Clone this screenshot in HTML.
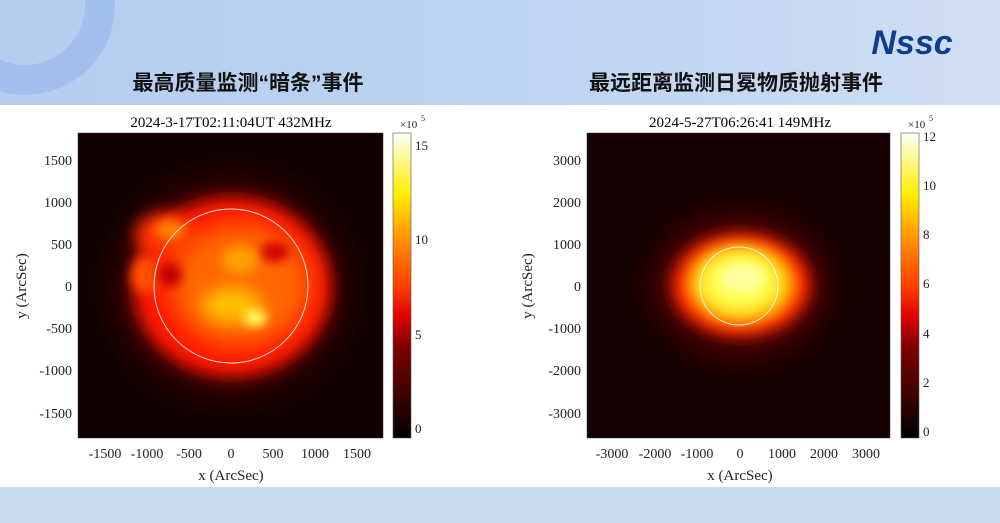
<!DOCTYPE html>
<html><head><meta charset="utf-8"><style>
html,body{margin:0;padding:0;width:1000px;height:523px;overflow:hidden;background:#fff}
</style></head><body>
<svg width="1000" height="523" viewBox="0 0 1000 523" xmlns="http://www.w3.org/2000/svg" font-family="Liberation Serif, serif">
<defs>
<linearGradient id="sky" x1="0" y1="0" x2="1" y2="0">
<stop offset="0" stop-color="#b4cdf0"/><stop offset="0.5" stop-color="#bcd3f2"/><stop offset="1" stop-color="#d0def2"/></linearGradient>
<linearGradient id="cb" x1="0" y1="1" x2="0" y2="0">
<stop offset="0" stop-color="#000"/><stop offset="0.3" stop-color="#800000"/><stop offset="0.4" stop-color="#e00000"/><stop offset="0.5" stop-color="#ff4000"/><stop offset="0.65" stop-color="#ff9000"/><stop offset="0.8" stop-color="#ffee00"/><stop offset="1" stop-color="#fffff8"/></linearGradient>
<filter id="b8" x="-50%" y="-50%" width="200%" height="200%"><feGaussianBlur stdDeviation="8"/></filter>
<filter id="b12" x="-50%" y="-50%" width="200%" height="200%"><feGaussianBlur stdDeviation="12"/></filter>
<filter id="b5" x="-50%" y="-50%" width="200%" height="200%"><feGaussianBlur stdDeviation="5"/></filter>
<clipPath id="c1"><rect x="78" y="133" width="305" height="305"/></clipPath>
<clipPath id="c2"><rect x="587" y="133" width="303" height="305"/></clipPath>
</defs>
<rect width="1000" height="105" fill="url(#sky)"/>
<circle cx="25" cy="5" r="75" fill="none" stroke="#9ab9ec" stroke-width="30" opacity="0.7"/>
<rect y="487" width="1000" height="36" fill="#c9d9ee"/>
<text x="912" y="54" font-family="Liberation Sans, sans-serif" font-style="italic" font-weight="bold" font-size="34" fill="#0d3d91" text-anchor="middle">Nssc</text>
<text x="248" y="90" font-family="Liberation Sans, 'Noto Sans CJK SC', sans-serif" font-weight="bold" font-size="21" fill="#111" text-anchor="middle">最高质量监测“暗条”事件</text>
<text x="736" y="90" font-family="Liberation Sans, 'Noto Sans CJK SC', sans-serif" font-weight="bold" font-size="21" fill="#111" text-anchor="middle">最远距离监测日冕物质抛射事件</text>

<!-- left plot -->
<text x="231" y="127" font-size="15" text-anchor="middle">2024-3-17T02:11:04UT 432MHz</text>
<g clip-path="url(#c1)">
<rect x="78" y="133" width="305" height="305" fill="#120000"/>
<ellipse cx="230" cy="287" rx="118" ry="112" fill="#300000" filter="url(#b12)"/>
<ellipse cx="232" cy="287" rx="99" ry="90" fill="#ff1800" filter="url(#b8)"/>
<ellipse cx="165" cy="235" rx="30" ry="22" fill="#ff3000" filter="url(#b8)"/>
<ellipse cx="145" cy="275" rx="14" ry="18" fill="#ff5000" filter="url(#b5)"/>
<ellipse cx="240" cy="285" rx="70" ry="62" fill="#ff6800" filter="url(#b12)"/>
<ellipse cx="170" cy="230" rx="15" ry="10" fill="#ff8000" filter="url(#b5)"/>
<ellipse cx="240" cy="260" rx="18" ry="14" fill="#ffa000" filter="url(#b5)"/>
<ellipse cx="232" cy="305" rx="30" ry="18" fill="#ffc000" filter="url(#b8)"/>
<ellipse cx="255" cy="318" rx="12" ry="8" fill="#ffff60" filter="url(#b5)"/>
<ellipse cx="170" cy="275" rx="12" ry="12" fill="#c00000" filter="url(#b5)"/>
<ellipse cx="275" cy="252" rx="14" ry="10" fill="#d00000" filter="url(#b5)"/>
</g>
<circle cx="231" cy="286" r="77" fill="none" stroke="#fff" stroke-width="1" opacity="0.85"/>
<rect x="78" y="133" width="305" height="305" fill="none" stroke="#333" stroke-width="0.5"/>
<g font-size="14" fill="#222">
<g text-anchor="middle">
<text x="105" y="458">-1500</text><text x="147" y="458">-1000</text><text x="189" y="458">-500</text><text x="231" y="458">0</text><text x="273" y="458">500</text><text x="315" y="458">1000</text><text x="357" y="458">1500</text>
</g>
<g text-anchor="end">
<text x="72" y="165">1500</text><text x="72" y="207">1000</text><text x="72" y="249">500</text><text x="72" y="291">0</text><text x="72" y="333">-500</text><text x="72" y="375">-1000</text><text x="72" y="418">-1500</text>
</g>
<text x="231" y="480" text-anchor="middle" font-size="15">x (ArcSec)</text>
<text transform="translate(26,286) rotate(-90)" text-anchor="middle" font-size="15">y (ArcSec)</text>
</g>
<rect x="393" y="133" width="18" height="305" fill="url(#cb)" stroke="#555" stroke-width="0.6"/>
<g font-size="13" fill="#222">
<text x="415" y="150">15</text><text x="415" y="244">10</text><text x="415" y="339">5</text><text x="415" y="433">0</text>
<text x="400" y="128" font-size="11">×10</text><text x="421" y="121" font-size="8">5</text>
</g>

<!-- right plot -->
<text x="740" y="127" font-size="15" text-anchor="middle">2024-5-27T06:26:41 149MHz</text>
<g clip-path="url(#c2)">
<rect x="587" y="133" width="303" height="305" fill="#140000"/>
<ellipse cx="740" cy="286" rx="95" ry="80" fill="#380000" filter="url(#b12)"/>
<ellipse cx="741" cy="285" rx="70" ry="52" fill="#ff2000" filter="url(#b8)"/>
<ellipse cx="741" cy="284" rx="54" ry="40" fill="#ffc000" filter="url(#b8)"/>
<ellipse cx="740" cy="282" rx="40" ry="30" fill="#ffff50" filter="url(#b8)"/>
<ellipse cx="742" cy="278" rx="22" ry="15" fill="#ffffa0" filter="url(#b5)"/>
</g>
<circle cx="739" cy="286" r="39" fill="none" stroke="#fff" stroke-width="1" opacity="0.85"/>
<rect x="587" y="133" width="303" height="305" fill="none" stroke="#333" stroke-width="0.5"/>
<g font-size="14" fill="#222">
<g text-anchor="middle">
<text x="612" y="458">-3000</text><text x="655" y="458">-2000</text><text x="697" y="458">-1000</text><text x="740" y="458">0</text><text x="782" y="458">1000</text><text x="824" y="458">2000</text><text x="866" y="458">3000</text>
</g>
<g text-anchor="end">
<text x="581" y="165">3000</text><text x="581" y="207">2000</text><text x="581" y="249">1000</text><text x="581" y="291">0</text><text x="581" y="333">-1000</text><text x="581" y="375">-2000</text><text x="581" y="418">-3000</text>
</g>
<text x="740" y="480" text-anchor="middle" font-size="15">x (ArcSec)</text>
<text transform="translate(532,286) rotate(-90)" text-anchor="middle" font-size="15">y (ArcSec)</text>
</g>
<rect x="901" y="133" width="18" height="305" fill="url(#cb)" stroke="#555" stroke-width="0.6"/>
<g font-size="13" fill="#222">
<text x="923" y="141">12</text><text x="923" y="190">10</text><text x="923" y="239">8</text><text x="923" y="288">6</text><text x="923" y="338">4</text><text x="923" y="387">2</text><text x="923" y="436">0</text>
<text x="908" y="128" font-size="11">×10</text><text x="929" y="121" font-size="8">5</text>
</g>
</svg>
</body></html>
